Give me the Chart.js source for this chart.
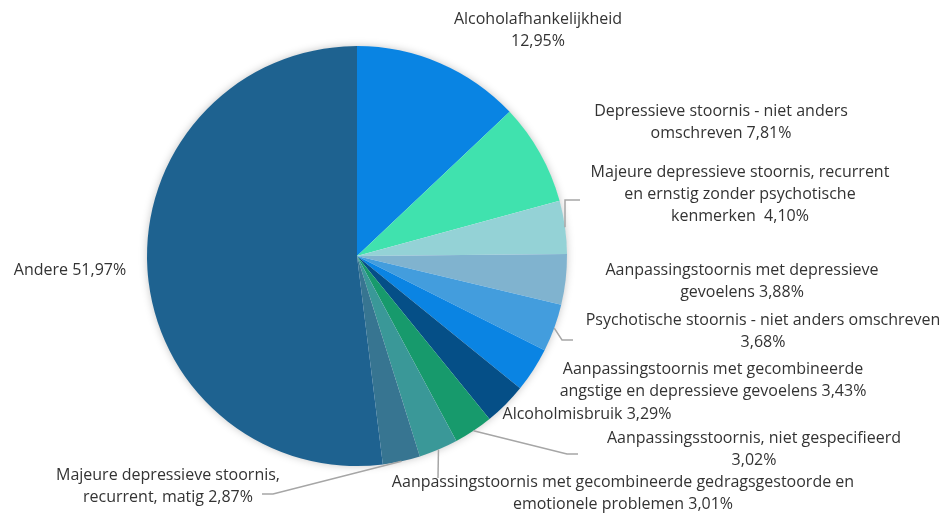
<!DOCTYPE html>
<html>
<head>
<meta charset="utf-8">
<script src="https://cdn.jsdelivr.net/npm/chart.js@4"></script>
<style>
  body { margin: 0; background: #fff; }
  canvas { display: block; }
</style>
</head>
<body>
<canvas id="pie-chart" width="951" height="514"></canvas>
<script>
// Category names ('\n' marks where the label wraps)
const categories = [
  'Alcoholafhankelijkheid\n',
  'Depressieve stoornis - niet anders\nomschreven ',
  'Majeure depressieve stoornis, recurrent\nen ernstig zonder psychotische\nkenmerken  ',
  'Aanpassingstoornis met depressieve\ngevoelens ',
  'Psychotische stoornis - niet anders omschreven\n',
  'Aanpassingstoornis met gecombineerde\nangstige en depressieve gevoelens ',
  'Alcoholmisbruik ',
  'Aanpassingsstoornis, niet gespecifieerd\n',
  'Aanpassingstoornis met gecombineerde gedragsgestoorde en\nemotionele problemen ',
  'Majeure depressieve stoornis,\nrecurrent, matig ',
  'Andere '
];

// Share of each category in percent
const percentages = [12.95, 7.81, 4.10, 3.88, 3.68, 3.43, 3.29, 3.02, 3.01, 2.87, 51.97];

const colors = [
  '#0984e3', '#40e2ae', '#94d2d6', '#80b3cf', '#439ddd', '#0a84e3',
  '#054f87', '#179a6c', '#3a9898', '#377591', '#1e6290'
];

// Where each label goes (centre x, first line y) and optional leader line bends
const labelPos = [
  [538, 19], [721, 111], [740, 172], [742, 270], [763, 320], [713, 369],
  [587, 414], [754, 438], [623, 482], [168, 475], [70, 270]
];
const leaders = {
  2: [[565, 200], [580, 200]],
  4: [[562, 340], [573, 340]],
  7: [[567, 454], [578, 454]],
  8: [[438, 478]],
  9: [[273, 494], [262, 494]]
};

function fmt(v) {
  return v.toFixed(2).replace('.', ',') + '%';
}

// Soft shadow behind the whole pie
const shadowPlugin = {
  id: 'pieShadow',
  beforeDatasetsDraw(chart) {
    const arc = chart.getDatasetMeta(0).data[0];
    if (!arc) return;
    const p = arc.getProps(['x', 'y', 'outerRadius'], true);
    const ctx = chart.ctx;
    ctx.save();
    ctx.shadowColor = 'rgba(0,0,0,0.25)';
    ctx.shadowBlur = 8;
    ctx.fillStyle = '#ffffff';
    ctx.beginPath();
    ctx.arc(p.x, p.y, p.outerRadius - 0.5, 0, Math.PI * 2);
    ctx.fill();
    ctx.restore();
  }
};

// Outside labels with leader lines
const labelPlugin = {
  id: 'outsideLabels',
  afterDraw(chart) {
    const ctx = chart.ctx;
    const arcs = chart.getDatasetMeta(0).data;
    ctx.save();

    // leader lines, starting at the middle of each slice's edge
    ctx.strokeStyle = '#a6a6a6';
    ctx.lineWidth = 1.5;
    Object.keys(leaders).forEach(k => {
      const arc = arcs[k];
      const p = arc.getProps(['x', 'y', 'startAngle', 'endAngle', 'outerRadius'], true);
      const mid = (p.startAngle + p.endAngle) / 2;
      ctx.beginPath();
      ctx.moveTo(p.x + Math.cos(mid) * p.outerRadius, p.y + Math.sin(mid) * p.outerRadius);
      leaders[k].forEach(pt => ctx.lineTo(pt[0], pt[1]));
      ctx.stroke();
    });

    ctx.fillStyle = '#333333';
    ctx.font = '16px "Open Sans"';
    ctx.textAlign = 'center';
    ctx.textBaseline = 'middle';
    categories.forEach((name, i) => {
      const lines = (name + fmt(percentages[i])).split('\n');
      lines.forEach((line, j) => {
        ctx.fillText(line, labelPos[i][0], labelPos[i][1] + j * 22);
      });
    });
    ctx.restore();
  }
};

const data = {
  labels: categories,
  datasets: [{
    data: percentages,
    backgroundColor: colors,
    borderWidth: 0,
    hoverOffset: 0,
    hoverBorderWidth: 0
  }]
};

const config = {
  type: 'pie',
  data: data,
  options: {
    responsive: false,
    animation: false,
    layout: {
      padding: { left: 147, right: 384, top: 46, bottom: 48 }
    },
    plugins: {
      legend: { display: false },
      tooltip: { enabled: false }
    }
  },
  plugins: [shadowPlugin, labelPlugin]
};

var myChart = new Chart(
  document.getElementById('pie-chart'),
  config
);
</script>
</body>
</html>
